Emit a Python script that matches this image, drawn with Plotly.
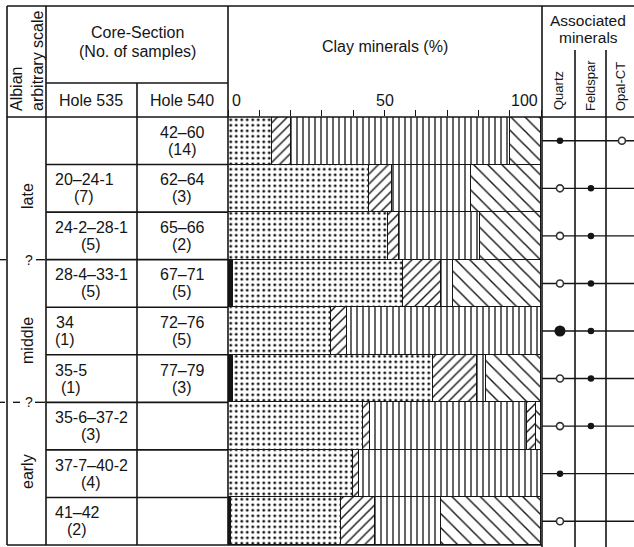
import plotly.graph_objects as go

W, H = 634, 547

# ---------------- data ----------------
hole535 = ["", "20–24-1", "24-2–28-1", "28-4–33-1", "34", "35-5", "35-6–37-2", "37-7–40-2", "41–42"]
n535 = ["", "(7)", "(5)", "(5)", "(1)", "(1)", "(3)", "(4)", "(2)"]
hole540 = ["42–60", "62–64", "65–66", "67–71", "72–76", "77–79", "", "", ""]
n540 = ["(14)", "(3)", "(2)", "(5)", "(5)", "(3)", "", "", ""]

# clay mineral percentages per row (stacked left to right)
black = [None, None, None, 1.5, None, 1.5, None, None, 1]
dots = [14, 45, 51, 54.5, 33, 64, 43, 40, 35]
slash = [6, 7.5, 3.5, 12, 5, 14, 2.5, 2, 11]
vert = [70, 25, 26, 4, 62, 3, 50, 58, 21]
slash2 = [None, None, None, None, None, None, 3, None, None]
back = [10, 22.5, 19.5, 28, None, 17.5, 1.5, None, 32]

# associated minerals: 0 none, 1 present (open), 2 common (filled), 3 abundant (large)
minerals = ["Quartz", "Feldspar", "Opal-CT"]
quartz = [2, 1, 1, 1, 3, 1, 1, 2, 1]
feldspar = [0, 2, 2, 2, 2, 2, 2, 0, 0]
opal = [1, 0, 0, 0, 0, 0, 0, 0, 0]

ages = ["late", "middle", "early"]
clay_ticklabels = [0, 50, 100]

rows = list(range(len(dots)))

# ---------------- figure ----------------
FONT = "Liberation Sans, Arial, Helvetica, sans-serif"
INK = "#151515"
fig = go.Figure()


def pat(shape, size, sol):
    return dict(shape=shape, size=size, solidity=sol, fgcolor=INK, bgcolor="white", fillmode="replace")


bar_specs = [
    ("Black", black, dict(color=INK)),
    ("Dots", dots, dict(color="white", pattern=pat(".", 5.5, 0.22))),
    ("Slash", slash, dict(color="white", pattern=pat("/", 7, 0.2))),
    ("Vertical", vert, dict(color="white", pattern=pat("|", 6, 0.22))),
    ("Slash2", slash2, dict(color="white", pattern=pat("/", 7, 0.2))),
    ("Back", back, dict(color="white", pattern=pat("\\", 10, 0.14))),
]
for name, vals, mk in bar_specs:
    mk = dict(mk)
    mk["line"] = dict(color=INK, width=1.3)
    fig.add_trace(go.Bar(x=vals, y=rows, orientation="h", width=1, marker=mk,
                         name=name, showlegend=False, hoverinfo="skip"))

# associated-mineral markers
style = {
    1: dict(symbol="circle", size=7, color="white", line=dict(color="#333", width=1.6)),
    2: dict(symbol="circle", size=6.5, color=INK, line=dict(color=INK, width=0)),
    3: dict(symbol="circle", size=11, color=INK, line=dict(color=INK, width=0)),
}
for code in (1, 2, 3):
    xs, ys = [], []
    for mi, arr in enumerate([quartz, feldspar, opal]):
        for r, c in enumerate(arr):
            if c == code:
                xs.append(minerals[mi])
                ys.append(r)
    fig.add_trace(go.Scatter(x=xs, y=ys, mode="markers", marker=style[code],
                             xaxis="x2", yaxis="y", showlegend=False, hoverinfo="skip"))

# ---------------- layout helpers ----------------
shapes = []
ann = []


def px(x):
    return x / W


def py(y):
    return 1 - y / H


def line(x0, y0, x1, y1, w=1.6, layer="above"):
    shapes.append(dict(type="line", xref="paper", yref="paper", x0=px(x0), y0=py(y0),
                       x1=px(x1), y1=py(y1), line=dict(color=INK, width=w), layer=layer))


def text(x, y, s, size=16, xanchor="center", yanchor="middle", angle=0, align="center"):
    ann.append(dict(x=px(x), y=py(y), xref="paper", yref="paper", text=s,
                    showarrow=False, xanchor=xanchor, yanchor=yanchor, textangle=angle,
                    align=align, font=dict(family=FONT, size=size, color=INK)))


def rowtext(x, r, s, shift):
    ann.append(dict(x=px(x), y=r, xref="paper", yref="y", text=s, showarrow=False,
                    xanchor="center", yanchor="middle", yshift=shift,
                    font=dict(family=FONT, size=16, color=INK)))


AW = {c: 0.556 for c in "0123456789–"}
AW.update({"-": 0.333, "(": 0.333, ")": 0.333})


def tw(s, size=16):
    return sum(AW.get(c, 0.556) for c in s) * size


TOP, SUB, HDR, BOT = 6, 83, 117, 545
XL, XA, X1, X2, XC, XM, XQ, XF = 7, 46, 137, 228, 542, 542, 575, 606

# frame lines
line(XL, TOP, W, TOP)
line(XL, HDR, W, HDR)
line(XA, SUB, X2, SUB)
line(XL, BOT, XC, BOT)
line(XL, TOP, XL, BOT)
line(XA, TOP, XA, BOT)
line(X1, SUB, X1, BOT)
line(X2, TOP, X2, BOT)
line(XC, TOP, XC, H)
line(XQ, 50, XQ, H)
line(XF, 50, XF, H)

# row lines in core-section columns
for i in range(len(rows) - 1):
    shapes.append(dict(type="line", xref="paper", yref="y", x0=px(XA), x1=px(X2), y0=i + 0.5, y1=i + 0.5,
                       line=dict(color=INK, width=1.6)))
# associated mineral guide lines
for i in rows:
    shapes.append(dict(type="line", xref="paper", yref="y", x0=px(XM), x1=1, y0=i, y1=i,
                       line=dict(color=INK, width=1.4), layer="below"))

# dashed age boundaries
for yb, segs in [(2.5, [(0, 6), (36, 45)]), (5.5, [(0, 5), (13, 20), (35, 45)])]:
    for a, b in segs:
        shapes.append(dict(type="line", xref="paper", yref="y", x0=px(a), x1=px(b), y0=yb, y1=yb,
                           line=dict(color=INK, width=1.4)))
    ann.append(dict(x=px(29), y=yb, xref="paper", yref="y", text="?", showarrow=False,
                    xanchor="center", yanchor="middle", font=dict(family=FONT, size=14, color=INK)))

# header texts
text(27, 61, "Albian<br>arbitrary scale", angle=-90, align="left")
text(137, 33, "Core-Section")
text(137, 51, "(No. of samples)")
text(91, 100, "Hole 535")
text(182, 100, "Hole 540")
text(385, 47, "Clay minerals (%)")
text(588, 20, "Associated", size=15.5)
text(588, 38, "minerals", size=15.5)
for name, xc, yc in [("Quartz", 558, 91), ("Feldspar", 590, 86), ("Opal-CT", 621, 87)]:
    text(xc, yc, name, size=13, angle=-90)

# clay axis labels (positioned on the clay axis)
for v in clay_ticklabels:
    xa = {0: "left", 50: "center", 100: "right"}[v]
    ann.append(dict(x=v, y=py(101), xref="x", yref="paper", text=str(v), showarrow=False,
                    xanchor=xa, yanchor="middle", xshift=(2 if v == 0 else (-1 if v == 100 else 0)),
                    font=dict(family=FONT, size=16, color=INK)))

# age labels
for a, yc in zip(ages, [196, 341, 472]):
    text(27, yc, a, angle=-90)

# row texts
for i in rows:
    if hole535[i]:
        bw = max(tw(hole535[i]), tw(n535[i]))
        cx = 55 + bw / 2
        rowtext(cx, i, hole535[i], 8.5)
        rowtext(cx, i, n535[i], -8.5)
    if hole540[i]:
        rowtext(182, i, hole540[i], 8.5)
        rowtext(182, i, n540[i], -8.5)

fig.update_layout(
    width=W, height=H,
    margin=dict(l=0, r=0, t=0, b=0, pad=0),
    paper_bgcolor="white", plot_bgcolor="white",
    barmode="stack", bargap=0,
    xaxis=dict(domain=[X2 / W, 541 / W], range=[0, 100], side="top", anchor="y",
               ticks="outside", ticklen=6, tickwidth=1.3, tickcolor=INK, tick0=0, dtick=10,
               showticklabels=False, showgrid=False, zeroline=False, showline=False, fixedrange=True),
    yaxis=dict(domain=[1 - BOT / H, 1 - HDR / H], range=[8.5, -0.5], visible=False, fixedrange=True),
    xaxis2=dict(domain=[XM / W, 1], range=[-0.58, 2.39], anchor="y", visible=False,
                categoryorder="array", categoryarray=minerals, fixedrange=True),
    shapes=shapes,
    annotations=ann,
    showlegend=False,
)

fig.write_html("out.html")
